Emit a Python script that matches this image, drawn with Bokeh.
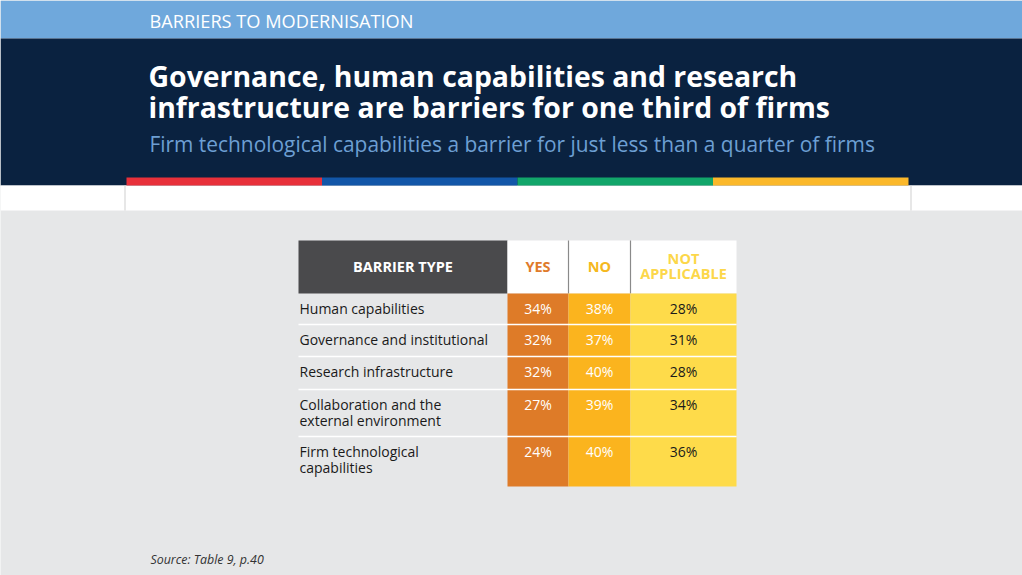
from bokeh.plotting import figure
from bokeh.models import Range1d
from bokeh.core.properties import value
from bokeh.embed import file_html
from bokeh.resources import INLINE

# data
kicker = "BARRIERS TO MODERNISATION"
title_lines = ["Governance, human capabilities and research",
               "infrastructure are barriers for one third of firms"]
subtitle = "Firm technological capabilities a barrier for just less than a quarter of firms"
source = "Source: Table 9, p.40"

barriers = ["Human capabilities", "Governance and institutional", "Research infrastructure",
            "Collaboration and the\nexternal environment", "Firm technological\ncapabilities"]
yes = [34, 32, 32, 27, 24]
no = [38, 37, 40, 39, 40]
not_applicable = [28, 31, 28, 34, 36]
headers = ["BARRIER TYPE", "YES", "NO", "NOT\nAPPLICABLE"]

# layout (page pixels)
W, H = 1022, 575
FONT = "Open Sans"
col_edges = [298, 507, 568, 630, 736]
head_top, head_bot = 240, 293
row_h = [31, 32, 33, 47, 50]
stripe_cols = ["#e8303a", "#1256a8", "#12a66a", "#fbb82a"]
cell_fill = ["#de7b28", "#fbb41e", "#fedb4a"]
head_txt = ["#ffffff", "#e07b2b", "#f5b820", "#fcd74a"]
val_txt = ["#ffffff", "#ffffff", "#1a1a1a"]

p = figure(width=W, height=H, output_backend="svg", toolbar_location=None,
           x_range=Range1d(0, W), y_range=Range1d(H, 0),
           min_border=0, background_fill_color="#e6e7e8", border_fill_color="#e6e7e8")
p.axis.visible = False
p.grid.visible = False
p.outline_line_color = None

# header bands
p.quad(left=[0], right=[W], top=[0], bottom=[38], fill_color="#6fa8dc", line_color=None)
p.quad(left=[0], right=[W], top=[38], bottom=[185], fill_color="#0a2240", line_color=None)
p.quad(left=[0], right=[W], top=[185], bottom=[210], fill_color="#ffffff", line_color=None)
p.segment(x0=[124.5, 910.5], x1=[124.5, 910.5], y0=[185, 185], y1=[210, 210],
          line_color="#cfcfcf", line_width=1)
sx = [126 + i * (908 - 126) / 4 for i in range(5)]
p.quad(left=sx[:-1], right=sx[1:], top=[177] * 4, bottom=[185] * 4,
       fill_color=stripe_cols, line_color=None)

p.text(x=[149], y=[20], text=[kicker], text_font=value(FONT), text_font_size="18.2px",
       text_color="#ffffff", text_baseline="middle")
p.text(x=[148, 148], y=[75, 106], text=title_lines, text_font=value(FONT),
       text_font_size="28.4px", text_font_style="bold", text_color="#ffffff",
       text_baseline="middle")
p.text(x=[149], y=[143], text=[subtitle], text_font=value(FONT), text_font_size="20.9px",
       text_color="#6d9fd3", text_baseline="middle")

# table header
p.quad(left=[col_edges[0]], right=[col_edges[1]], top=[head_top], bottom=[head_bot],
       fill_color="#4a4a4c", line_color=None)
p.quad(left=[col_edges[1]], right=[col_edges[4]], top=[head_top], bottom=[head_bot],
       fill_color="#ffffff", line_color=None)
p.segment(x0=col_edges[2:4], x1=col_edges[2:4], y0=[head_top] * 2, y1=[head_bot] * 2,
          line_color="#8a8a8a", line_width=1.2)
hx = [(col_edges[i] + col_edges[i + 1]) / 2 for i in range(4)]
p.text(x=hx, y=[(head_top + head_bot) / 2 - 1] * 4, text=headers, text_font=value(FONT),
       text_font_size="14.5px", text_font_style="bold", text_color=head_txt,
       text_align="center", text_baseline="middle", text_line_height=0.82)

# table body
tops = [head_bot]
for h in row_h:
    tops.append(tops[-1] + h)
cols = [yes, no, not_applicable]
for j, vals in enumerate(cols):
    p.quad(left=[col_edges[j + 1]] * len(vals), right=[col_edges[j + 2]] * len(vals),
           top=tops[:-1], bottom=tops[1:], fill_color=cell_fill[j], line_color=None)
    p.text(x=[hx[j + 1]] * len(vals), y=[t + 15 for t in tops[:-1]],
           text=[f"{v}%" for v in vals], text_font=value(FONT), text_font_size="14px",
           text_color=val_txt[j], text_align="center", text_baseline="middle")
p.segment(x0=[col_edges[0]] * 4, x1=[col_edges[4]] * 4, y0=tops[1:-1], y1=tops[1:-1],
          line_color="#ffffff", line_width=1.5)
p.text(x=[299] * len(barriers), y=[t + 5 for t in tops[:-1]], text=barriers,
       text_font=value(FONT), text_font_size="14px", text_color="#1a1a1a",
       text_baseline="top", text_line_height=0.85)

p.text(x=[150], y=[559], text=[source], text_font=value(FONT), text_font_size="12.4px",
       text_font_style="italic", text_color="#333333", text_baseline="middle")

open("out.html", "w").write(file_html(p, INLINE))
